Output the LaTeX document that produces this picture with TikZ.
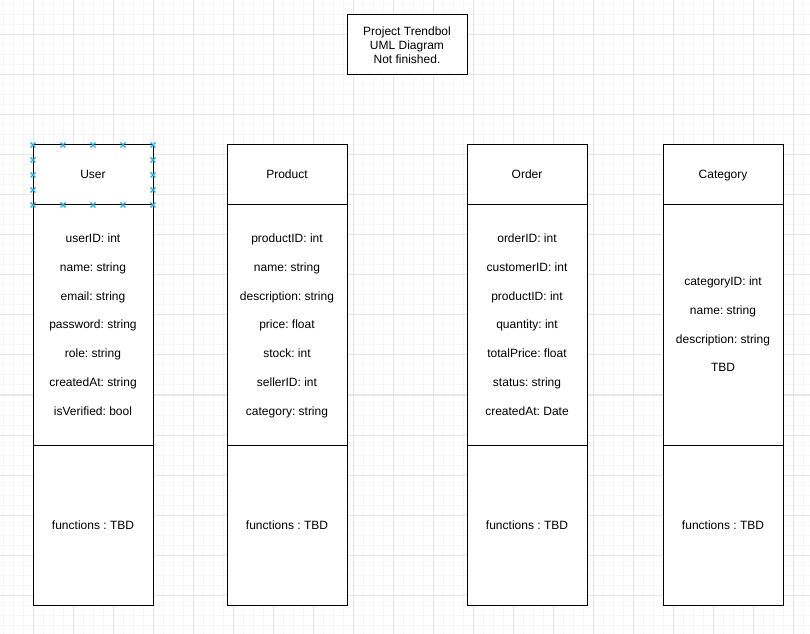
\documentclass[tikz,border=0pt]{standalone}
\usepackage{fontspec}
\setmainfont{Liberation Sans}
\frenchspacing
\definecolor{gridmajor}{RGB}{230,230,230}
\definecolor{gridminor}{RGB}{246,246,246}
\definecolor{handleblue}{RGB}{41,168,224}
\tikzset{
    part/.style={draw=black, fill=white, line width=0.75pt, minimum width=90pt, inner sep=0pt},
    head/.style={part, minimum height=45pt},
    attrs/.style={part, minimum height=180pt},
    funcs/.style={part, minimum height=120pt},
    txt/.style={font=\fontsize{9}{10.5}\selectfont, inner sep=0pt, text height=6.6pt, text depth=0.6pt},
}
\begin{document}
\begin{tikzpicture}[x=0.75pt,y=-0.75pt]
    \useasboundingbox (0,0) rectangle (810,634);

    % 背景网格
    \foreach \x in {3,13,...,803} \draw[gridminor, line width=0.75pt] (\x,0) -- (\x,634);
    \foreach \y in {5,15,...,625} \draw[gridminor, line width=0.75pt] (0,\y) -- (810,\y);
    \foreach \x in {33,73,...,793} \draw[gridmajor, line width=0.75pt] (\x,0) -- (\x,634);
    \foreach \y in {35,75,...,595} \draw[gridmajor, line width=0.75pt] (0,\y) -- (810,\y);

    % 标题
    \node[part, minimum height=45pt, font=\fontsize{9}{10.5}\selectfont, align=center] (title) at (407,45) {Project Trendbol\\UML Diagram\\Not finished.};

    % User
    \node[head] (userhead) at (93,175) {};
    \node[attrs] (userattr) at (93,325) {};
    \node[funcs] (userfunc) at (93,525) {};
    \node[txt] (username) at (93,175) {User};
    \node[txt] (u1) at (93,239) {userID: int};
    \node[txt] (u2) at (93,268) {name: string};
    \node[txt] (u3) at (93,297) {email: string};
    \node[txt] (u4) at (93,325) {password: string};
    \node[txt] (u5) at (93,354) {role: string};
    \node[txt] (u6) at (93,383) {createdAt: string};
    \node[txt] (u7) at (93,411) {isVerified: bool};
    \node[txt] (uf) at (93,525) {functions : TBD};

    % Product
    \node[head] (prodhead) at (287,175) {};
    \node[attrs] (prodattr) at (287,325) {};
    \node[funcs] (prodfunc) at (287,525) {};
    \node[txt] (prodname) at (287,175) {Product};
    \node[txt] (p1) at (287,239) {productID: int};
    \node[txt] (p2) at (287,268) {name: string};
    \node[txt] (p3) at (287,297) {description: string};
    \node[txt] (p4) at (287,325) {price: float};
    \node[txt] (p5) at (287,354) {stock: int};
    \node[txt] (p6) at (287,383) {sellerID: int};
    \node[txt] (p7) at (287,411) {category: string};
    \node[txt] (pf) at (287,525) {functions : TBD};

    % Order
    \node[head] (ordhead) at (527,175) {};
    \node[attrs] (ordattr) at (527,325) {};
    \node[funcs] (ordfunc) at (527,525) {};
    \node[txt] (ordname) at (527,175) {Order};
    \node[txt] (o1) at (527,239) {orderID: int};
    \node[txt] (o2) at (527,268) {customerID: int};
    \node[txt] (o3) at (527,297) {productID: int};
    \node[txt] (o4) at (527,325) {quantity: int};
    \node[txt] (o5) at (527,354) {totalPrice: float};
    \node[txt] (o6) at (527,383) {status: string};
    \node[txt] (o7) at (527,411) {createdAt: Date};
    \node[txt] (of) at (527,525) {functions : TBD};

    % Category
    \node[head] (cathead) at (723,175) {};
    \node[attrs] (catattr) at (723,325) {};
    \node[funcs] (catfunc) at (723,525) {};
    \node[txt] (catname) at (723,175) {Category};
    \node[txt] (c1) at (723,282) {categoryID: int};
    \node[txt] (c2) at (723,311) {name: string};
    \node[txt] (c3) at (723,340) {description: string};
    \node[txt] (c4) at (723,368) {TBD};
    \node[txt] (cf) at (723,525) {functions : TBD};

    % 选中标记
    \foreach \x/\y in {33/145,63/145,93/145,123/145,153/145,
                       33/205,63/205,93/205,123/205,153/205,
                       33/160,33/175,33/190,153/160,153/175,153/190}
        \draw[handleblue, line width=1pt] (\x-2.5,\y-2.5) -- (\x+2.5,\y+2.5) (\x-2.5,\y+2.5) -- (\x+2.5,\y-2.5);
\end{tikzpicture}
\end{document}
